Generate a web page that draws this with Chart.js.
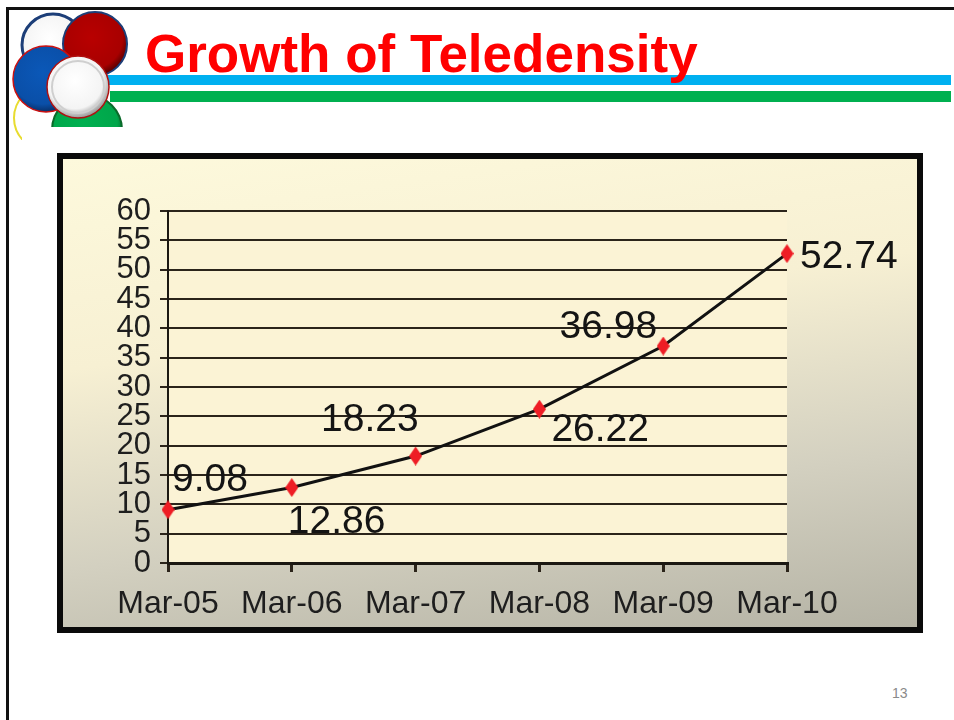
<!DOCTYPE html>
<html>
<head>
<meta charset="utf-8">
<title>Growth of Teledensity</title>
<script src="https://cdn.jsdelivr.net/npm/chart.js@4.4.1/dist/chart.umd.min.js"></script>
<style>
  html, body { margin: 0; padding: 0; background: #fff; }
  body { width: 954px; height: 720px; position: relative; overflow: hidden; font-family: "Liberation Sans", Arial, sans-serif; }
  .frame-top { position: absolute; left: 7px; top: 7px; width: 947px; height: 3px; background: #111; }
  .frame-left { position: absolute; left: 6px; top: 7px; width: 3px; height: 713px; background: #111; }
  .bar-blue { position: absolute; left: 105px; top: 75px; width: 846px; height: 10px; background: #00b0f0; }
  .bar-green { position: absolute; left: 110px; top: 91px; width: 841px; height: 11px; background: #00b050; }
  .logo { position: absolute; left: 0; top: 0; }
  .title { position: absolute; left: 145px; top: 27px; margin: 0; font: bold 53px/53px "Liberation Sans", Arial, sans-serif;
           color: #ff0000; white-space: nowrap; }
  .box { position: absolute; left: 57px; top: 153px; width: 866px; height: 480px; box-sizing: border-box;
         border: 6px solid #0a0a0a;
         background: linear-gradient(172deg, #fdf9dc 0%, #f7f0d3 36%, #d3d0c0 70%, #b5b3a5 100%); }
  .box canvas { display: block; }
  .pageno { position: absolute; left: 892px; top: 685px; font-size: 14px; color: #8a8a8a; }
</style>
</head>
<body>
<div class="frame-top"></div>
<div class="frame-left"></div>
<div class="bar-blue"></div>
<div class="bar-green"></div>
<svg class="logo" width="140" height="140" viewBox="0 0 140 140">
  <defs>
    <radialGradient id="gw" cx="45%" cy="40%" r="60%">
      <stop offset="0%" stop-color="#ffffff"/><stop offset="75%" stop-color="#f4f4f4"/><stop offset="100%" stop-color="#9a9a9a"/>
    </radialGradient>
    <radialGradient id="gr" cx="45%" cy="40%" r="60%">
      <stop offset="0%" stop-color="#b80000"/><stop offset="80%" stop-color="#a80000"/><stop offset="100%" stop-color="#5a0000"/>
    </radialGradient>
    <radialGradient id="gb" cx="45%" cy="40%" r="60%">
      <stop offset="0%" stop-color="#0b58b8"/><stop offset="80%" stop-color="#0a4fa8"/><stop offset="100%" stop-color="#07306a"/>
    </radialGradient>
    <radialGradient id="gg" cx="45%" cy="40%" r="60%">
      <stop offset="0%" stop-color="#00b050"/><stop offset="80%" stop-color="#00a64a"/><stop offset="100%" stop-color="#006a2c"/>
    </radialGradient>
    <clipPath id="cl"><rect x="0" y="0" width="140" height="127"/><rect x="0" y="127" width="22" height="13"/></clipPath>
  </defs>
  <g clip-path="url(#cl)">
    <circle cx="53" cy="45" r="31" fill="url(#gw)" stroke="#1c3e78" stroke-width="3"/>
    <circle cx="46" cy="118" r="32" fill="#fff" stroke="#e8dc30" stroke-width="2"/>
    <circle cx="87" cy="130" r="35" fill="url(#gg)" stroke="#0a6a2a" stroke-width="2"/>
    <circle cx="95" cy="44" r="32" fill="url(#gr)" stroke="#1c3e78" stroke-width="2"/>
    <circle cx="46" cy="79" r="33" fill="url(#gb)" stroke="#cc1010" stroke-width="1.5"/>
    <circle cx="78" cy="87" r="31" fill="url(#gw)" stroke="#b01010" stroke-width="1.5"/>
    <circle cx="78" cy="87" r="26" fill="none" stroke="#cfcfcf" stroke-width="2"/>
  </g>
</svg>
<h1 class="title">Growth of Teledensity</h1>
<div class="box"><canvas id="teleChart" width="854" height="468"></canvas></div>
<div class="pageno">13</div>

<script>
'use strict';

// ===== Data =====
const periods = ['Mar-05', 'Mar-06', 'Mar-07', 'Mar-08', 'Mar-09', 'Mar-10'];
const teledensity = [9.08, 12.86, 18.23, 26.22, 36.98, 52.74];
const yTicks = [0, 5, 10, 15, 20, 25, 30, 35, 40, 45, 50, 55, 60];

const ink = '#1b1812';
const gridInk = '#2b241a';
const fontFamily = "'Liberation Sans', Arial, sans-serif";

// red diamond marker, a little taller than wide
function diamond(w, h, color) {
  const c = document.createElement('canvas');
  c.width = w; c.height = h;
  const g = c.getContext('2d');
  g.fillStyle = color;
  g.beginPath();
  g.moveTo(w / 2, 0); g.lineTo(w, h / 2); g.lineTo(w / 2, h); g.lineTo(0, h / 2);
  g.closePath(); g.fill();
  return c;
}

// cream plot area behind the gridlines
const plotBg = {
  id: 'plotBg',
  beforeDraw(chart) {
    const { ctx, chartArea: a } = chart;
    ctx.save();
    ctx.fillStyle = '#fbf3d5';
    ctx.fillRect(a.left, a.top, a.right - a.left, a.bottom - a.top);
    ctx.restore();
  }
};

// value labels next to each point
const valueLabels = {
  id: 'valueLabels',
  afterDatasetsDraw(chart, args, opts) {
    const { ctx } = chart;
    const pts = chart.getDatasetMeta(0).data;
    ctx.save();
    ctx.font = opts.size + 'px ' + opts.family;
    ctx.fillStyle = opts.color;
    ctx.textBaseline = 'alphabetic';
    pts.forEach((p, i) => {
      const pl = opts.place[i];
      ctx.textAlign = pl[0];
      ctx.fillText(teledensity[i].toFixed(2), p.x + pl[1], p.y + pl[2]);
    });
    ctx.restore();
  }
};

new Chart(document.getElementById('teleChart'), {
  type: 'line',
  data: {
    labels: periods,
    datasets: [{
      data: teledensity,
      borderColor: '#111',
      borderWidth: 3,
      tension: 0,
      pointStyle: diamond(13, 19, '#ee1d25'),
      pointRadius: 8,
      pointHoverRadius: 8
    }]
  },
  options: {
    responsive: false,
    animation: false,
    layout: { padding: { top: 52, right: 130, left: 0, bottom: 0 } },
    plugins: {
      legend: { display: false },
      tooltip: { enabled: false },
      valueLabels: {
        family: fontFamily, size: 39, color: '#141414',
        place: [['left', 4, -19], ['left', -4, 45], ['right', 3, -25], ['left', 12, 32], ['right', -6, -8], ['left', 13, 14]]
      }
    },
    scales: {
      x: {
        grid: { drawOnChartArea: false, drawTicks: true, tickLength: 9, color: gridInk, lineWidth: 3 },
        border: { color: ink, width: 3 },
        ticks: { font: { family: fontFamily, size: 32 }, color: '#1e1e1e', padding: 13, maxRotation: 0, autoSkip: false },
        afterFit: s => { s.height = 64; }
      },
      y: {
        min: 0, max: 60,
        afterBuildTicks: s => { s.ticks = yTicks.map(v => ({ value: v })); },
        grid: { color: gridInk, lineWidth: 2, tickLength: 8 },
        border: { color: ink, width: 2 },
        ticks: { font: { family: fontFamily, size: 31 }, color: '#1e1e1e', padding: 9, autoSkip: false },
        afterFit: s => { s.width = 105; }
      }
    }
  },
  plugins: [plotBg, valueLabels]
});
</script>
</body>
</html>
